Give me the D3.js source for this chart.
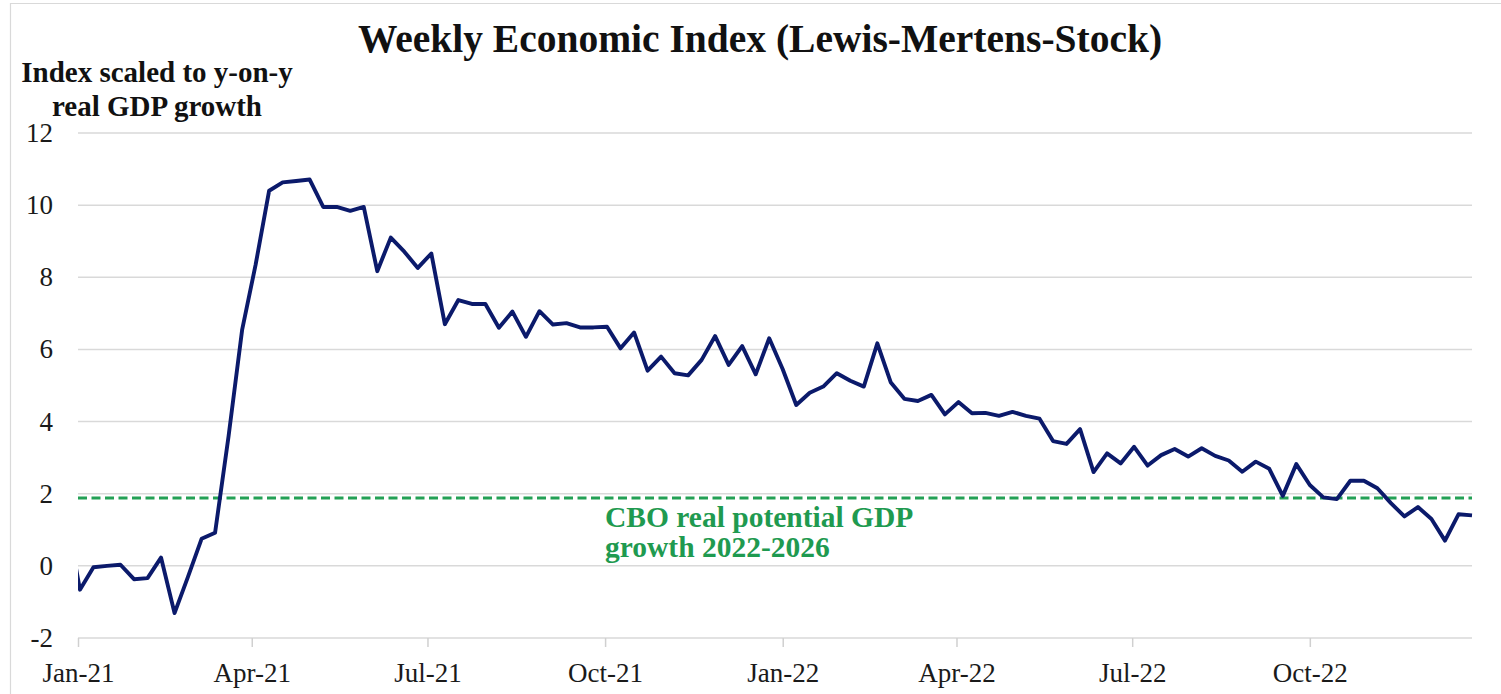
<!DOCTYPE html>
<html>
<head>
<meta charset="utf-8">
<script src="https://cdn.jsdelivr.net/npm/d3@7"></script>
<style>
  html, body { margin: 0; padding: 0; background: #fff; }
  svg { display: block; }
  text { font-family: "Liberation Serif", "Times New Roman", serif; }
</style>
</head>
<body>
<svg id="chart" width="1501" height="694"></svg>
<script>
// ---- data ----
const titleText = "Weekly Economic Index (Lewis-Mertens-Stock)";
const yTitleLines = ["Index scaled to y-on-y", "real GDP growth"];
const annotationLines = ["CBO real potential GDP", "growth 2022-2026"];
const firstWeek = "2020-12-26";   // weekly observations (Saturdays)
const lastWeek = "2022-12-24";
const weiValues = [
  1.4,
  -0.66, -0.04, 0.00, 0.03, -0.37, -0.34, 0.23, -1.31, -0.30, 0.75,
  0.92, 3.60, 6.54, 8.35, 10.40, 10.63, 10.67, 10.71, 9.95, 9.95,
  9.84, 9.95, 8.17, 9.10, 8.71, 8.26, 8.66, 6.70, 7.37, 7.26,
  7.26, 6.60, 7.05, 6.35, 7.06, 6.69, 6.73, 6.61, 6.61, 6.63,
  6.03, 6.47, 5.41, 5.80, 5.34, 5.28, 5.71, 6.37, 5.57, 6.09,
  5.31, 6.31, 5.45, 4.46, 4.80, 4.97, 5.34, 5.13, 4.97, 6.17,
  5.08, 4.63, 4.57, 4.74, 4.20, 4.54, 4.23, 4.24, 4.16, 4.27,
  4.16, 4.08, 3.46, 3.38, 3.79, 2.60, 3.12, 2.84, 3.30, 2.78,
  3.07, 3.24, 3.03, 3.26, 3.05, 2.92, 2.61, 2.89, 2.69, 1.94,
  2.82, 2.24, 1.90, 1.85, 2.36, 2.36, 2.15, 1.74, 1.37, 1.63,
  1.30, 0.70, 1.43, 1.40
];
const cboPotential = 1.88;
const yTicks = [-2, 0, 2, 4, 6, 8, 10, 12];
const xTickDates = ["2021-01-01", "2021-04-01", "2021-07-01", "2021-10-01",
                    "2022-01-01", "2022-04-01", "2022-07-01", "2022-10-01"];
const xDomain = ["2021-01-01", "2022-12-24"];

// ---- build ----
const parse = d3.utcParse("%Y-%m-%d");
const weeks = d3.utcSaturday.range(parse(firstWeek), d3.utcDay.offset(parse(lastWeek), 1));
const series = weeks.map((d, i) => ({ date: d, value: weiValues[i] })).filter(d => d.value !== undefined);

const svg = d3.select("#chart");
const plot = { left: 78, right: 1472, top: 133, bottom: 638 };

const x = d3.scaleUtc().domain(xDomain.map(parse)).range([plot.left, plot.right]);
const y = d3.scaleLinear().domain([-2, 12]).range([plot.bottom, plot.top]);

// frame
svg.append("path")
  .attr("d", `M10.5,694 L10.5,3.5 L1501,3.5`)
  .attr("fill", "none").attr("stroke", "#d9d9d9").attr("stroke-width", 1.2);

// gridlines
svg.append("g").selectAll("line").data(yTicks).join("line")
  .attr("x1", plot.left).attr("x2", plot.right)
  .attr("y1", d => y(d)).attr("y2", d => y(d))
  .attr("stroke", "#d9d9d9").attr("stroke-width", 1.5);

// y tick labels
svg.append("g").selectAll("text").data(yTicks).join("text")
  .attr("x", 53).attr("y", d => y(d) + 9)
  .attr("text-anchor", "end")
  .attr("font-size", 27).attr("fill", "#1a1a1a")
  .text(d => d);

// x axis ticks & labels
const xAxis = d3.axisBottom(x)
  .tickValues(xTickDates.map(parse))
  .tickFormat(d3.utcFormat("%b-%y"))
  .tickSize(9).tickPadding(16);
const gx = svg.append("g").attr("transform", `translate(0,${plot.bottom})`).call(xAxis);
gx.select(".domain").remove();
gx.selectAll(".tick line").attr("stroke", "#d0d0d0").attr("stroke-width", 1.5);
gx.selectAll(".tick text")
  .attr("font-family", "'Liberation Serif', 'Times New Roman', serif")
  .attr("font-size", 27).attr("fill", "#1a1a1a");

// CBO dashed line
svg.append("line")
  .attr("x1", plot.left).attr("x2", plot.right)
  .attr("y1", y(cboPotential)).attr("y2", y(cboPotential))
  .attr("stroke", "#23a055").attr("stroke-width", 3)
  .attr("stroke-dasharray", "9,4.5");

// WEI line, clipped to plot
svg.append("clipPath").attr("id", "plotclip")
  .append("rect").attr("x", plot.left).attr("y", 0)
  .attr("width", plot.right - plot.left + 2).attr("height", 694);

const line = d3.line().x(d => x(d.date)).y(d => y(d.value));
svg.append("path")
  .datum(series)
  .attr("clip-path", "url(#plotclip)")
  .attr("d", line)
  .attr("fill", "none")
  .attr("stroke", "#0b1a6b")
  .attr("stroke-width", 3.9)
  .attr("stroke-linejoin", "round");

// title
svg.append("text")
  .attr("x", 760).attr("y", 52)
  .attr("text-anchor", "middle")
  .attr("font-size", 39.5).attr("font-weight", "bold").attr("fill", "#111")
  .text(titleText);

// y-axis title
svg.append("g").selectAll("text").data(yTitleLines).join("text")
  .attr("x", 157).attr("y", (d, i) => 82 + i * 34)
  .attr("text-anchor", "middle")
  .attr("font-size", 29).attr("font-weight", "bold").attr("fill", "#111")
  .text(d => d);

// annotation
svg.append("g").selectAll("text").data(annotationLines).join("text")
  .attr("x", 605).attr("y", (d, i) => 527 + i * 30)
  .attr("font-size", 29.5).attr("font-weight", "bold").attr("fill", "#1f9a50")
  .text(d => d);
</script>
</body>
</html>
